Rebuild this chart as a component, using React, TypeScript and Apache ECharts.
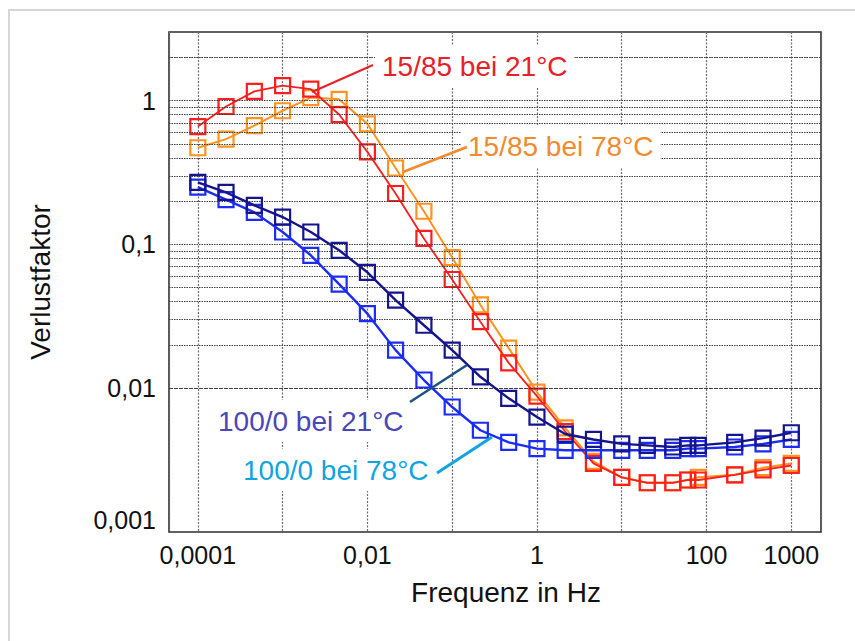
import React, { useEffect, useRef } from "react";
import * as echarts from "echarts";

// ---- data -------------------------------------------------------------
const frequencies = [
  0.0001, 0.000215, 0.000464, 0.001, 0.00215, 0.00464, 0.01, 0.0215, 0.0464,
  0.1, 0.215, 0.464, 1, 2.15, 4.64, 10, 20, 40, 60, 80, 215, 464, 1000,
];
const loss1585at21 = [
  0.66, 0.91, 1.16, 1.27, 1.2, 0.8, 0.44, 0.226, 0.11, 0.057, 0.029, 0.015,
  0.0088, 0.005, 0.003, 0.0024, 0.0022, 0.0022, 0.0023, 0.0023, 0.0025, 0.0027,
  0.0029,
];
const loss1585at78 = [
  0.47, 0.54, 0.67, 0.85, 1.05, 1.02, 0.69, 0.34, 0.17, 0.081, 0.038, 0.019,
  0.0094, 0.0053, 0.0031, 0.0024, 0.0022, 0.0022, 0.0023, 0.0024, 0.0025,
  0.0028, 0.003,
];
const loss1000at21 = [
  0.27, 0.23, 0.187, 0.155, 0.122, 0.091, 0.064, 0.041, 0.0274, 0.0184, 0.012,
  0.0085, 0.0063, 0.0048, 0.0044, 0.0041, 0.004, 0.0039, 0.004, 0.004, 0.0042,
  0.0045, 0.0049,
];
const loss1000at78 = [
  0.25, 0.205, 0.167, 0.122, 0.084, 0.053, 0.033, 0.0184, 0.0114, 0.0074,
  0.0051, 0.0042, 0.0038, 0.0037, 0.0037, 0.0037, 0.0037, 0.0037, 0.0038,
  0.0038, 0.0039, 0.0041, 0.0044,
];
const seriesNames = [
  "15/85 bei 21°C",
  "15/85 bei 78°C",
  "100/0 bei 21°C",
  "100/0 bei 78°C",
];
const xTickValues = [0.0001, 0.01, 1, 100, 1000];
const xTickLabels = ["0,0001", "0,01", "1", "100", "1000"];
const yTickValues = [0.001, 0.01, 0.1, 1];
const yTickLabels = ["0,001", "0,01", "0,1", "1"];
const xAxisTitle = "Frequenz in Hz";
const yAxisTitle = "Verlustfaktor";

// ---- styling ------------------------------------------------------------
const X_MIN = 4.57e-5;
const X_MAX = 2240;
const Y_MIN = 0.001;
const Y_MAX = 3;
const FONT = "'Liberation Sans', Arial, Helvetica, sans-serif";
const COLORS = ["#ff1e1e", "#ff9320", "#14148c", "#1a2cf5"];
const LINE_WIDTHS = [1.8, 2, 2.4, 2.4];
const LABEL_COLORS = ["#e8202a", "#f28a2e", "#4a46b8", "#12a4e0"];

function findLabel(v: number, values: number[], labels: string[]) {
  for (let i = 0; i < values.length; i++) {
    if (Math.abs(Math.log10(v) - Math.log10(values[i])) < 1e-6) return labels[i];
  }
  return "";
}

export default function App() {
  const ref = useRef<HTMLDivElement>(null);

  useEffect(() => {
    if (!ref.current) return;
    const chart = echarts.init(ref.current, null, { renderer: "svg" });

    // horizontal grid (decades and 2..9 subdivisions)
    const hLines: number[] = [];
    for (let d = -3; d <= 0; d++) {
      for (let m = 1; m <= 9; m++) {
        const v = m * Math.pow(10, d);
        if (v < Y_MAX) hLines.push(Number(v.toPrecision(3)));
      }
    }
    hLines.push(2);

    const allData = [loss1585at21, loss1585at78, loss1000at21, loss1000at78];
    const order = [1, 0, 3, 2];
    const series: any[] = order.map((i, k) => ({
      name: seriesNames[i],
      type: "line",
      data: frequencies.map((f, j) => [f, allData[i][j]]),
      symbol: "rect",
      symbolSize: 15,
      showSymbol: true,
      silent: true,
      z: 3 + k,
      lineStyle: { color: COLORS[i], width: LINE_WIDTHS[i] },
      itemStyle: {
        color: "rgba(255,255,255,0)",
        borderColor: COLORS[i],
        borderWidth: 2.2,
      },
    }));
    series.push({
      name: "grid",
      type: "line",
      data: [],
      silent: true,
      z: 1,
      markLine: {
        silent: true,
        symbol: ["none", "none"],
        label: { show: false },
        animation: false,
        lineStyle: { color: "#3c3c3c", width: 1.1, type: [1.5, 1] },
        data: hLines.map((v) => ({ yAxis: v })),
      },
    });

    const textBox = (
      text: string,
      x: number,
      y: number,
      color: string
    ) => ({
      type: "text",
      x,
      y,
      z: 100,
      style: {
        text,
        fill: color,
        font: `28px ${FONT}`,
        align: "left",
        verticalAlign: "middle",
        backgroundColor: "#ffffff",
        padding: [7, 7],
      },
    });
    const leader = (
      x1: number,
      y1: number,
      x2: number,
      y2: number,
      color: string,
      w: number
    ) => ({
      type: "line",
      z: 101,
      shape: { x1, y1, x2, y2 },
      style: { stroke: color, lineWidth: w },
    });

    chart.setOption({
      animation: false,
      backgroundColor: "#ffffff",
      grid: {
        left: 169,
        top: 32,
        right: 34,
        bottom: 109,
        show: true,
        borderColor: "#2e2e2e",
        borderWidth: 1.6,
      },
      xAxis: {
        type: "log",
        logBase: 10,
        min: X_MIN,
        max: X_MAX,
        axisLine: { show: false },
        axisTick: { show: false },
        splitLine: {
          show: true,
          lineStyle: { color: "#6a6a6a", width: 1.2, type: [2, 1.5] },
        },
        axisLabel: {
          margin: 10,
          fontSize: 25,
          fontFamily: FONT,
          color: "#111",
          formatter: (v: number) => findLabel(v, xTickValues, xTickLabels),
        },
      },
      yAxis: {
        type: "log",
        logBase: 10,
        min: Y_MIN,
        max: Y_MAX,
        axisLine: { show: false },
        axisTick: { show: false },
        splitLine: { show: false },
        axisLabel: {
          margin: 13,
          fontSize: 25,
          fontFamily: FONT,
          color: "#111",
          formatter: (v: number) => {
            const s = findLabel(v, yTickValues, yTickLabels);
            if (!s) return "";
            if (Math.abs(v - Y_MIN) < 1e-9) return `{up|${s}}`;
            return s;
          },
          rich: {
            up: {
              fontSize: 25,
              fontFamily: FONT,
              color: "#111",
              padding: [0, 0, 24, 0],
            },
          },
        },
      },
      series,
      graphic: [
        {
          type: "rect",
          z: 0,
          silent: true,
          shape: { x: 9, y: 10, width: 870, height: 660 },
          style: { fill: "none", stroke: "#d6d6d6", lineWidth: 2 },
        },
        leader(373, 65, 312, 92, LABEL_COLORS[0], 2),
        leader(467, 147, 403, 172, LABEL_COLORS[1], 2.5),
        leader(410, 402, 467, 365, "#1e5282", 2.5),
        leader(437, 473, 492, 437, LABEL_COLORS[3], 3),
        textBox(seriesNames[0], 375, 66, LABEL_COLORS[0]),
        textBox(seriesNames[1], 461, 146, LABEL_COLORS[1]),
        textBox(seriesNames[2], 211, 421, LABEL_COLORS[2]),
        textBox(seriesNames[3], 236, 470, LABEL_COLORS[3]),
        {
          type: "text",
          x: 506,
          y: 592,
          style: {
            text: xAxisTitle,
            fill: "#111",
            font: `28px ${FONT}`,
            align: "center",
            verticalAlign: "middle",
          },
        },
        {
          type: "text",
          x: 40,
          y: 282,
          rotation: Math.PI / 2,
          style: {
            text: yAxisTitle,
            fill: "#111",
            font: `28px ${FONT}`,
            align: "center",
            verticalAlign: "middle",
          },
        },
      ],
    });

    return () => chart.dispose();
  }, []);

  return (
    <div
      ref={ref}
      style={{
        position: "fixed",
        left: 0,
        top: 0,
        width: 855,
        height: 641,
        background: "#fff",
      }}
    />
  );
}
